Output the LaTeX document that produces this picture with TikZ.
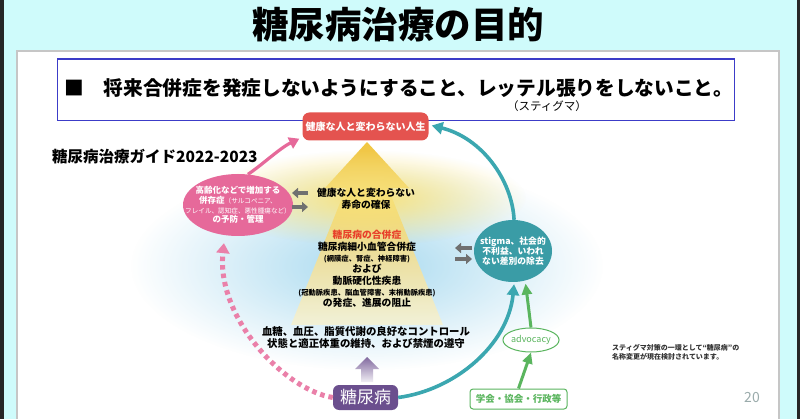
\documentclass[tikz,border=0pt]{standalone}
\usepackage{fontspec}
\setmainfont{Noto Sans CJK JP}
\usetikzlibrary{arrows.meta,fadings,shapes.geometric}
\tikzfading[name=myglow, inner color=transparent!0, outer color=transparent!100]
\definecolor{bgcyan}{HTML}{CFFBFB}
\definecolor{boxblue}{HTML}{3C3CC8}
\definecolor{lifered}{HTML}{E4534F}
\definecolor{pinkc}{HTML}{E6699A}
\definecolor{tealc}{HTML}{3BA7B0}
\definecolor{tealcirc}{HTML}{3A9CA6}
\definecolor{purplec}{HTML}{6B4F8E}
\definecolor{greenc}{HTML}{5AB55E}
\definecolor{arrowtop}{HTML}{F0C02C}
\definecolor{arrowbot}{HTML}{F4F2D4}
\definecolor{glowblue}{HTML}{9FD6EE}
\definecolor{glowyellow}{HTML}{F8E27A}
\definecolor{redtext}{HTML}{E8402A}
\definecolor{pagegray}{HTML}{9AABAB}
\definecolor{arrgray}{HTML}{707070}
\newcommand\myfs[1]{\fontsize{#1}{#1}\selectfont}
\tikzset{
  txt/.style={inner sep=0pt, align=center},
  pinkarrow/.style={draw=pinkc, line width=3.2pt, -{Triangle[length=10pt,width=12pt]}},
  pinkdots/.style={draw=pinkc!85, line width=5pt, dash pattern=on 4.5pt off 4pt, -{Triangle[length=10pt,width=13pt]}},
  tealarrow/.style={draw=tealc, line width=3.6pt, -{Triangle[length=11pt,width=12pt]}},
  greenarrow/.style={draw=greenc, line width=3pt, -{Triangle[length=11pt,width=10pt]}},
  grayarr/.style={draw=arrgray, line width=4pt, -{Triangle[length=6pt,width=10pt]}},
}
\begin{document}
\begin{tikzpicture}[x=1pt,y=-1pt]
\useasboundingbox (0,0) rectangle (800,419);
% background
\fill[bgcyan] (0,0) rectangle (800,419);
\fill[black!85] (0,0) rectangle (4,419);
\fill[black!85] (797,0) rectangle (800,419);
\fill[white, draw=gray!45, line width=1.2pt] (17,51) rectangle (779,430);
% title
\node[txt, font=\myfs{36.5}\bfseries] (title) at (398,25) {糖尿病治療の目的};
% blue box
\draw[boxblue, line width=1.3pt] (57.5,59) rectangle (734.5,120.5);
\node[txt, anchor=west, font=\myfs{19.7}\bfseries] (goal) at (64,88.5) {■\hspace{20pt}将来合併症を発症しないようにすること、レッテル張りをしないこと。};
\node[txt, font=\myfs{11.5}] (stigma) at (547,106.5) {（スティグマ）};
% guide title
\node[txt, anchor=west, font=\myfs{15.5}\bfseries] (guide) at (52,157) {糖尿病治療ガイド2022-2023};
% blue glow
\fill[glowblue, path fading=myglow, opacity=0.9] (367,266) ellipse [x radius=236pt, y radius=104pt];
% big yellow arrow
\shade[top color=arrowtop, bottom color=arrowbot, opacity=0.9]
  (367,142) -- (409,188) -- (388,188) -- (443,325) -- (291,325) -- (346,188) -- (325,188) -- cycle;
% yellow glow
\fill[glowyellow, path fading=myglow] (366,198) ellipse [x radius=160pt, y radius=48pt];
% life node
\node[fill=lifered, rounded corners=7pt, minimum width=126pt, minimum height=28pt, inner sep=0pt,
      text=white, font=\myfs{10}\bfseries] (life) at (365.5,126.5) {健康な人と変わらない人生};
% pink ellipse
\node[ellipse, fill=pinkc, minimum width=110pt, minimum height=62pt, inner sep=0pt] (ell) at (238,205) {};
\node[txt, text=white, font=\fontsize{8.5}{9.6}\selectfont\bfseries] (elltxt) at (ell) {高齢化などで増加する\\併存症{\myfs{6.6}\mdseries（サルコペニア、}\\{\myfs{6.6}\mdseries フレイル、認知症、悪性腫瘍など）}\\の予防・管理};
% yellow text
\node[txt, font=\fontsize{9.8}{12}\selectfont\bfseries] (life2) at (366,199) {健康な人と変わらない\\寿命の確保};
% center text
\node[txt, font=\fontsize{9.8}{11.3}\selectfont\bfseries] (comp) at (367,269) {{\color{redtext}糖尿病の合併症}\\糖尿病細小血管合併症\\{\myfs{7.3}(網膜症、腎症、神経障害)}\\および\\動脈硬化性疾患\\{\myfs{7.3}(冠動脈疾患、脳血管障害、末梢動脈疾患)}\\の発症、進展の阻止};
% bottom text
\node[txt, font=\fontsize{10.4}{12}\selectfont\bfseries] (ctrl) at (366,338) {血糖、血圧、脂質代謝の良好なコントロール\\状態と適正体重の維持、および禁煙の遵守};
% teal circle
\node[ellipse, fill=tealcirc, minimum width=78pt, minimum height=62pt, inner sep=0pt] (stig) at (513,251) {};
\node[txt, text=white, font=\fontsize{8.8}{9.8}\selectfont\bfseries] (stigtxt) at (stig) {stigma、社会的\\不利益、いわれ\\ない差別の除去};
% diabetes node
\node[fill=purplec, rounded corners=6pt, minimum width=65pt, minimum height=25pt, inner sep=0pt,
      text=white, font=\myfs{17}] (dm) at (365.5,397.5) {糖尿病};
% purple up arrow
\shade[top color=purplec!85, bottom color=purplec!10]
  (367,357) -- (379,369) -- (373,369) -- (373,382) -- (361,382) -- (361,369) -- (355,369) -- cycle;
% advocacy and gov
\node[ellipse, draw=greenc, line width=1pt, fill=white, minimum width=54pt, minimum height=24pt, inner sep=0pt,
      text=greenc, font=\myfs{9}] (adv) at (531,340) {advocacy};
\node[draw=greenc, line width=1pt, fill=white, rounded corners=3pt, minimum width=97pt, minimum height=20pt, inner sep=0pt,
      text=greenc, font=\myfs{9.5}\bfseries] (gov) at (518.5,399) {学会・協会・行政等};
% connectors
\draw[pinkarrow] (ell.72) .. controls (262,165) and (280,148) .. ([xshift=-3pt,yshift=2pt]life.south west);
\draw[pinkdots] (dm.west) .. controls (285,390) and (216,318) .. ([yshift=-8pt]ell.245);
\draw[tealarrow] (dm.east) .. controls (455,390) and (508,345) .. ([yshift=-2pt]stig.272);
\draw[tealarrow] (stig.88) .. controls (512,180) and (482,138) .. ([xshift=3pt,yshift=1pt]life.east);
\draw[greenarrow] (gov.north) -- (adv.south);
\draw[greenarrow] (adv.north) -- ([yshift=-3pt]stig.293);
% gray double arrows
\coordinate (gl1) at (308,193); \coordinate (gl2) at (292,193);
\coordinate (gr1) at (292,207); \coordinate (gr2) at (308,207);
\draw[grayarr] (gl1) -- (gl2);
\draw[grayarr] (gr1) -- (gr2);
\coordinate (sl1) at (472,248); \coordinate (sl2) at (455,248);
\coordinate (sr1) at (455,259); \coordinate (sr2) at (472,259);
\draw[grayarr] (sl1) -- (sl2);
\draw[grayarr] (sr1) -- (sr2);
% note and page number
\node[txt, anchor=west, font=\fontsize{7}{9.5}\selectfont\bfseries, align=left, text=black!80] (note) at (612,352.5) {スティグマ対策の一環として“糖尿病”の\\名称変更が現在検討されています。};
\node[txt, font=\myfs{14}, text=pagegray] (page) at (752,398) {20};
\end{tikzpicture}
\end{document}
